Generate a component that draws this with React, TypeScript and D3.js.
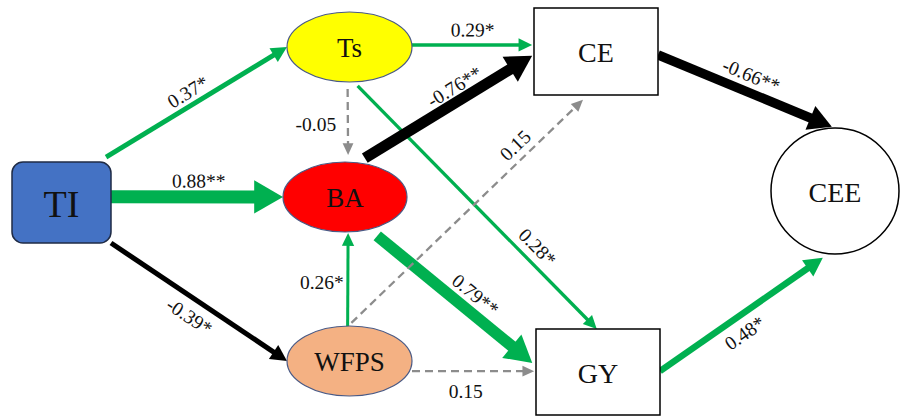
import React from "react";
import * as d3 from "d3";

// Path model: variables and standardized path coefficients
const nodeIds = ["TI", "Ts", "BA", "WFPS", "CE", "GY", "CEE"];
const pathFrom = ["TI", "TI", "TI", "Ts", "Ts", "Ts", "BA", "BA", "WFPS", "WFPS", "WFPS", "CE", "GY"];
const pathTo = ["Ts", "BA", "WFPS", "CE", "BA", "GY", "CE", "GY", "BA", "CE", "GY", "CEE", "CEE"];
const pathCoef = [0.37, 0.88, -0.39, 0.29, -0.05, 0.28, -0.76, 0.79, 0.26, 0.15, 0.15, -0.66, 0.48];
const pathSig = ["*", "**", "*", "*", "", "*", "**", "**", "*", "", "", "**", "*"];

type Shape = "round" | "ellipse" | "rect";
interface NodeGeom { shape: Shape; cx: number; cy: number; hw: number; hh: number; fill: string; stroke: string; sw: number; fs: number; }

const W = 900;
const H = 416;

const nodeGeom: Record<string, NodeGeom> = {
  TI: { shape: "round", cx: 61.5, cy: 202.5, hw: 49.5, hh: 40.5, fill: "#4472C4", stroke: "#1f2b45", sw: 1.5, fs: 38 },
  Ts: { shape: "ellipse", cx: 349.5, cy: 47, hw: 62.5, hh: 35, fill: "#FFFF00", stroke: "#4a5a85", sw: 1.2, fs: 27 },
  BA: { shape: "ellipse", cx: 345, cy: 197, hw: 62, hh: 35, fill: "#FF0000", stroke: "#4a5a85", sw: 1.2, fs: 27 },
  WFPS: { shape: "ellipse", cx: 349.5, cy: 361, hw: 62.5, hh: 35, fill: "#F4B183", stroke: "#4a5a85", sw: 1.2, fs: 27 },
  CE: { shape: "rect", cx: 596, cy: 51.5, hw: 62, hh: 43.5, fill: "#ffffff", stroke: "#000000", sw: 1.5, fs: 28 },
  GY: { shape: "rect", cx: 598, cy: 372, hw: 62, hh: 43, fill: "#ffffff", stroke: "#000000", sw: 1.5, fs: 28 },
  CEE: { shape: "ellipse", cx: 835, cy: 191, hw: 64, hh: 63, fill: "#ffffff", stroke: "#000000", sw: 1.5, fs: 28 },
};

// Anchor points relative to each node's half extents, plus label placement along each path
const pathLayout = [
  { a: [0.9, -1.12], b: [-1, 0], t: 0.49, off: 13 },
  { a: [1, -0.14], b: [-1, 0], t: 0.51, off: 16 },
  { a: [1, 1.0], b: [-1, 0], t: 0.5, off: -17.5 },
  { a: [0.98, -0.06], b: [-1.03, -0.15], t: 0.51, off: 15 },
  { a: [-0.03, 1.2], b: [0.05, -1.2], t: 0.54, off: -32, flat: true },
  { a: [0.13, 1.11], b: [-0.02, -1], t: 0.707, off: 15 },
  { a: [0.32, -1.11], b: [-1.03, 0.1], t: 0.58, off: 14 },
  { a: [0.52, 1.11], b: [-1.06, -0.21], t: 0.565, off: 16.5 },
  { a: [-0.03, -0.97], b: [0.05, 1.03], t: 0.47, off: 26, flat: true },
  { a: [0.03, -1.09], b: [-0.21, 1.11], t: 0.75, off: 14 },
  { a: [1, 0.29], b: [-1.03, -0.02], t: 0.44, off: -20 },
  { a: [1, 0.08], b: [-0.05, -1.02], t: 0.5, off: 16.5 },
  { a: [1, -0.02], b: [-0.19, 1.06], t: 0.46, off: -17.3 },
];

const widthScale = d3.scaleLinear().domain([0.26, 0.88]).range([3, 13]);

const GREEN = "#00B050";
const GREY = "#8c8c8c";
const FONT = "'Liberation Serif', 'Times New Roman', serif";

function anchor(id: string, r: number[]): [number, number] {
  const g = nodeGeom[id];
  return [g.cx + r[0] * g.hw, g.cy + r[1] * g.hh];
}

function Arrow({ i }: { i: number }) {
  const coef = pathCoef[i];
  const sig = pathSig[i] !== "";
  const lay = pathLayout[i];
  const [x0, y0] = anchor(pathFrom[i], lay.a);
  const [x1, y1] = anchor(pathTo[i], lay.b);
  const dx = x1 - x0;
  const dy = y1 - y0;
  const len = Math.hypot(dx, dy);
  const ux = dx / len;
  const uy = dy / len;
  const nx = uy;
  const ny = -ux;
  const w = sig ? widthScale(Math.abs(coef)) : 2.3;
  const color = !sig ? GREY : coef > 0 ? GREEN : "#000000";
  const headLen = 8 + 1.6 * w;
  const headHalf = 3 + 1.05 * w;
  const bx = x1 - ux * headLen;
  const by = y1 - uy * headLen;
  const head = d3.path();
  head.moveTo(x1, y1);
  head.lineTo(bx + nx * headHalf, by + ny * headHalf);
  head.lineTo(bx - nx * headHalf, by - ny * headHalf);
  head.closePath();

  const lx = x0 + dx * lay.t + nx * lay.off;
  const ly = y0 + dy * lay.t + ny * lay.off;
  const angle = lay.flat ? 0 : (Math.atan2(dy, dx) * 180) / Math.PI;
  const label = coef.toFixed(2) + pathSig[i];

  return (
    <g>
      <line
        x1={x0}
        y1={y0}
        x2={bx + ux * 1}
        y2={by + uy * 1}
        stroke={color}
        strokeWidth={w}
        strokeDasharray={sig ? undefined : "8,5"}
      />
      <path d={head.toString()} fill={color} />
      <text
        x={lx}
        y={ly}
        transform={`rotate(${angle},${lx},${ly})`}
        textAnchor="middle"
        dominantBaseline="central"
        fontFamily={FONT}
        fontSize={19.5}
        fill="#111"
      >
        {label}
      </text>
    </g>
  );
}

function Node({ id }: { id: string }) {
  const g = nodeGeom[id];
  let shape;
  if (g.shape === "ellipse") {
    shape = <ellipse cx={g.cx} cy={g.cy} rx={g.hw} ry={g.hh} fill={g.fill} stroke={g.stroke} strokeWidth={g.sw} />;
  } else {
    shape = (
      <rect
        x={g.cx - g.hw}
        y={g.cy - g.hh}
        width={g.hw * 2}
        height={g.hh * 2}
        rx={g.shape === "round" ? 11 : 0}
        fill={g.fill}
        stroke={g.stroke}
        strokeWidth={g.sw}
      />
    );
  }
  return (
    <g>
      {shape}
      <text
        x={g.cx}
        y={g.cy + 1}
        textAnchor="middle"
        dominantBaseline="central"
        fontFamily={FONT}
        fontSize={g.fs}
        fill="#111"
      >
        {id}
      </text>
    </g>
  );
}

export default function App() {
  return (
    <svg
      width={W}
      height={H}
      viewBox={`0 0 ${W} ${H}`}
      style={{ position: "fixed", left: 0, top: 0, background: "#ffffff" }}
    >
      <rect width={W} height={H} fill="#ffffff" />
      {pathCoef.map((_, i) => (
        <Arrow key={i} i={i} />
      ))}
      {nodeIds.map((id) => (
        <Node key={id} id={id} />
      ))}
    </svg>
  );
}
